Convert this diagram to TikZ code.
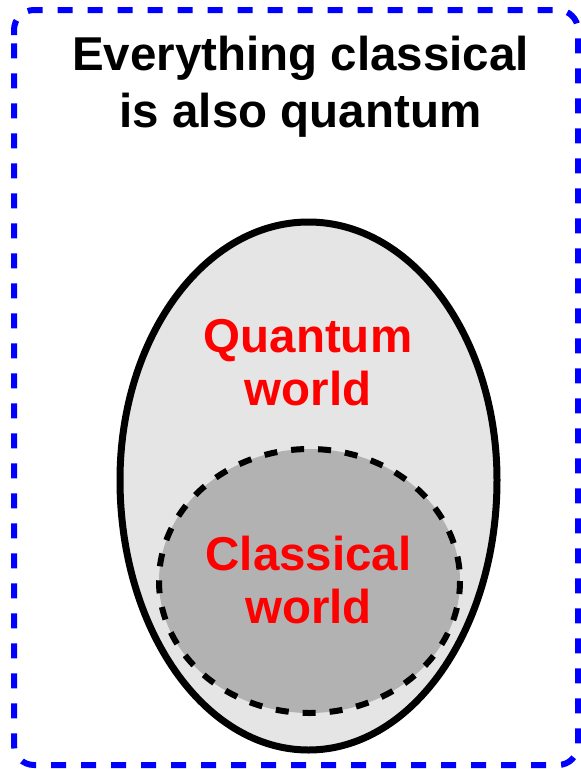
\documentclass[tikz,border=0pt]{standalone}
\usepackage{fontspec}
\setmainfont{Liberation Sans}
\begin{document}
\begin{tikzpicture}[x=1pt,y=-1pt,
  frame/.style={draw=blue, line width=6pt, dash pattern=on 15pt off 15pt, rounded corners=20pt},
  eggline/.style={draw=black, line width=7pt, fill=black!10},
  classline/.style={draw=black, line width=6pt, dash pattern=on 13pt off 14pt, fill=black!30},
  titletext/.style={anchor=base, inner sep=0pt, align=center, text=black,
    font=\fontsize{47.5}{57}\selectfont\bfseries},
  redtext/.style={anchor=base, inner sep=0pt, align=center, text=red,
    font=\fontsize{47.5}{53}\selectfont\bfseries}
]
\useasboundingbox (0,0) rectangle (581,769);
% outer frame
\draw[frame] (14,55) -- (14,10) -- (578,10) -- (578,765) -- (14,765) -- cycle;
% egg (quantum world)
\path[eggline] (120,480) arc[start angle=180, end angle=0, x radius=188.5, y radius=270]
  arc[start angle=0, end angle=-180, x radius=188.5, y radius=258] -- cycle;
% classical world
\path[classline] (309.5,581) ellipse[x radius=150.5, y radius=132];
% texts (anchor base = baseline of the last line)
\node[titletext] (title) at (300.5,127) {Everything classical\\is also quantum};
\node[redtext] (quantum) at (308,405) {Quantum\\world};
\node[redtext] (classical) at (308.5,623) {Classical\\world};
\end{tikzpicture}
\end{document}
